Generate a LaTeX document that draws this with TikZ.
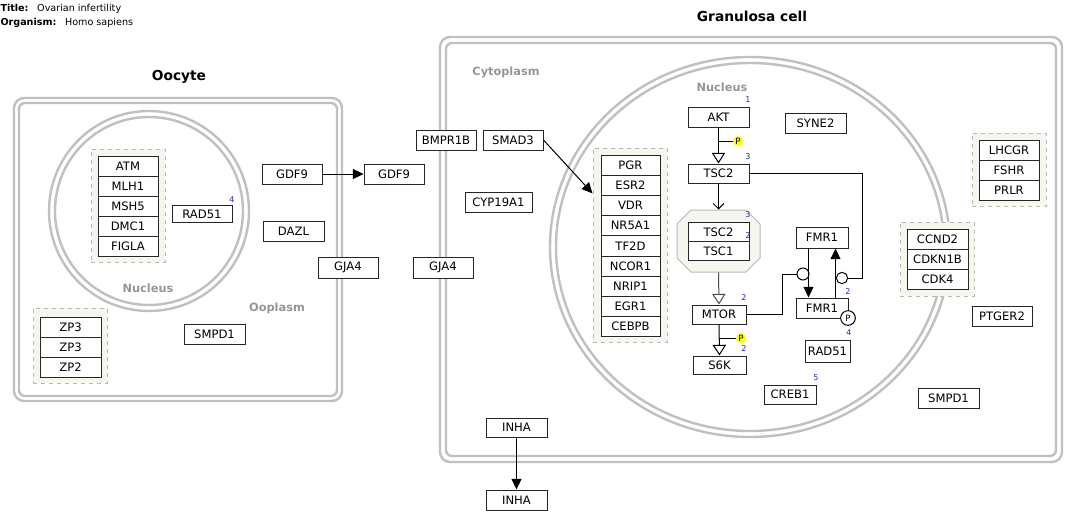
\documentclass[tikz,border=0pt]{standalone}
\usepackage{fontspec}
\setmainfont{DejaVu Sans}
\usetikzlibrary{arrows.meta}
\definecolor{cellgray}{RGB}{192,192,192}
\definecolor{labelgray}{RGB}{150,150,150}
\definecolor{grpfill}{RGB}{246,246,240}
\definecolor{grpline}{RGB}{185,185,175}
\definecolor{supblue}{RGB}{40,40,170}
\definecolor{phosyellow}{RGB}{255,255,0}
\begin{document}
\begin{tikzpicture}[x=0.75pt,y=-0.75pt,line width=0.75pt,
  gene/.style={draw=black!85,fill=white,minimum width=45.75pt,minimum height=15pt,inner sep=0pt,font=\fontsize{8.7}{10}\selectfont},
  wd/.style={minimum width=#1*0.75pt},
  ht/.style={minimum height=#1*0.75pt},
  grp/.style={draw=grpline,dashed,fill=grpfill,inner sep=0pt},
  membrane/.style={draw=cellgray,line width=1.8pt},
  complabel/.style={text=labelgray,font=\bfseries\fontsize{8.5}{10}\selectfont},
  celltitle/.style={font=\bfseries\fontsize{10.3}{12}\selectfont},
  supnum/.style={text=supblue,font=\fontsize{6}{7}\selectfont,inner sep=0pt},
  phos/.style={circle,fill=phosyellow,inner sep=0pt,minimum size=7.5pt,font=\fontsize{6.5}{7}\selectfont},
  catc/.style={circle,draw=black,fill=white,inner sep=0pt,minimum size=9pt},
  mimconv/.style={-{Triangle[open,length=8pt,width=10pt]}},
  arr/.style={-{Triangle[length=8pt,width=7.5pt]}},
  barb/.style={-{Straight Barb[length=4pt,width=8pt]}}]
\useasboundingbox (0,0) rectangle (1081,525);

% header
\node[anchor=west,inner sep=0pt,font=\fontsize{7.2}{8}\selectfont] (title) at (0,9) {\textbf{Title:}\hspace{6.5pt}Ovarian infertility};
\node[anchor=west,inner sep=0pt,font=\fontsize{7.2}{8}\selectfont] (organism) at (0,23) {\textbf{Organism:}\hspace{6.5pt}Homo sapiens};

% compartments
\draw[membrane,rounded corners=7.5pt] (14,98) rectangle (342,401);
\draw[membrane,rounded corners=4.5pt] (19,103) rectangle (337,396);
\draw[membrane] (149,211) circle[radius=100];
\draw[membrane] (149,211) circle[radius=94];
\draw[membrane,rounded corners=7.5pt] (440,37) rectangle (1062,462);
\draw[membrane,rounded corners=4.5pt] (446,43) rectangle (1056,456);
\draw[membrane] (750,247) ellipse[x radius=200,y radius=190];
\draw[membrane] (750,247) ellipse[x radius=194,y radius=184];

\node[celltitle] (oocyte) at (179,77) {Oocyte};
\node[celltitle] (granulosa) at (752,16) {Granulosa cell};
\node[complabel] (oonucleus) at (148,288) {Nucleus};
\node[complabel] (ooplasm) at (277,308) {Ooplasm};
\node[complabel] (cytoplasm) at (506,72) {Cytoplasm};
\node[complabel] (grnucleus) at (722,87) {Nucleus};

% groups
\node[grp,wd=74,ht=113] (oonucgrp) at (128,205.5) {};
\node[grp,wd=74,ht=75] (zpgrp) at (70,345.5) {};
\node[grp,wd=74,ht=194] (nrgrp) at (630,245) {};
\node[grp,wd=74,ht=73] (lhgrp) at (1009,169.5) {};
\node[grp,wd=74,ht=74] (cdkgrp) at (937,259) {};
\foreach \g [count=\i] in {ATM,MLH1,MSH5,DMC1,FIGLA}
  \node[gene,wd=60,ht=20] (oonuc\i) at (128,146+20*\i) {\g};
\foreach \g [count=\i] in {ZP3,ZP3,ZP2}
  \node[gene,wd=61,ht=20] (zp\i) at (70.5,307+20*\i) {\g};
\foreach \g [count=\i] in {PGR,ESR2,VDR,NR5A1,TF2D,NCOR1,NRIP1,EGR1,CEBPB}
  \node[gene,wd=59,ht=20.2] (nr\i) at (630.5,144.9+20.2*\i) {\g};
\foreach \g [count=\i] in {LHCGR,FSHR,PRLR}
  \node[gene,wd=60,ht=20] (lh\i) at (1009,130+20*\i) {\g};
\foreach \g [count=\i] in {CCND2,CDKN1B,CDK4}
  \node[gene,wd=61,ht=20] (cdk\i) at (937.5,219+20*\i) {\g};

% oocyte
\node[gene,wd=60,ht=17] (rad51o) at (202,214) {RAD51};
\node[gene,wd=60,ht=20] (gdf9o) at (292,174) {GDF9};
\node[gene,wd=61,ht=20] (dazl) at (293.5,231) {DAZL};
\node[gene,wd=61,ht=20] (smpd1o) at (214.5,334) {SMPD1};
\node[gene,wd=60,ht=21] (gja4o) at (348,267.5) {GJA4};

% granulosa cell
\node[gene,wd=60,ht=20] (gdf9g) at (394,174) {GDF9};
\node[gene,wd=60,ht=21] (gja4g) at (443,267.5) {GJA4};
\node[gene,wd=60,ht=20] (bmpr1b) at (446,140) {BMPR1B};
\node[gene,wd=60,ht=20] (smad3) at (513,140) {SMAD3};
\node[gene,wd=67,ht=20] (cyp19a1) at (498.5,202) {CYP19A1};
\node[gene,wd=60,ht=20] (ptger2) at (1002,316) {PTGER2};
\node[gene,wd=61,ht=20] (smpd1g) at (948.5,398) {SMPD1};
\node[gene,wd=61,ht=19] (inha1) at (516.5,427.5) {INHA};
\node[gene,wd=61,ht=20] (inha2) at (516.5,500) {INHA};

% nucleus
\node[gene,wd=61,ht=20] (akt) at (718.5,117) {AKT};
\node[gene,wd=61,ht=20] (syne2) at (815.5,123) {SYNE2};
\node[gene,wd=61,ht=19] (tsc2) at (718.5,173.5) {TSC2};
\filldraw[draw=grpline,fill=grpfill] (677,224) -- (691,210) -- (746,210) -- (760,224)
  -- (760,258) -- (746,272) -- (691,272) -- (677,258) -- cycle;
\node[inner sep=0pt,wd=83,ht=62] (tscx) at (718.5,241) {};
\node[gene,wd=61,ht=19] (tsc2c) at (718.5,232) {TSC2};
\node[gene,wd=61,ht=19] (tsc1) at (718.5,251) {TSC1};
\node[gene,wd=54,ht=19] (mtor) at (719,314.5) {MTOR};
\node[gene,wd=53,ht=18] (s6k) at (719.5,365) {S6K};
\node[gene,wd=52,ht=21] (fmr1a) at (822,237.5) {FMR1};
\node[gene,wd=52,ht=20] (fmr1b) at (822,308) {FMR1};
\node[gene,wd=45,ht=22] (rad51g) at (827.5,351) {RAD51};
\node[gene,wd=52,ht=19] (creb1) at (790,394.5) {CREB1};

% counts
\node[supnum] (n1) at (232,200) {4};
\node[supnum] (n2) at (748,100) {1};
\node[supnum] (n3) at (748,157) {3};
\node[supnum] (n4) at (748,215) {3};
\node[supnum] (n5) at (748,236) {2};
\node[supnum] (n6) at (744,298) {2};
\node[supnum] (n7) at (744,349) {2};
\node[supnum] (n8) at (848,292) {2};
\node[supnum] (n9) at (849,333) {4};
\node[supnum] (n10) at (816,378) {5};

% modifications
\node[phos] (p1) at (738,141) {P};
\node[phos] (p2) at (741,338) {P};
\node[catc,minimum size=11pt,font=\fontsize{6.5}{7}\selectfont] (p3) at (848,318) {P};
\node[catc] (c1) at (803,274) {};
\node[catc,minimum size=8.5pt] (c2) at (842,278) {};

% interactions
\draw[arr] (gdf9o.east) -- (gdf9g.west);
\draw[arr] (smad3.east) -- (nrgrp.126);
\draw[arr] (inha1.south) -- (inha2.north);
\draw[mimconv] (akt.south) -- (tsc2.north);
\draw[barb] (tsc2.south) -- (tscx.north);
\draw[mimconv,draw=black!70] (tscx.south) -- (mtor.north);
\draw[mimconv] (mtor.south) -- (s6k.north);
\draw (p1.west) -- (p1.west -| akt.south);
\draw (p2.west) -- (p2.west -| mtor.south);
\draw[arr] ([xshift=9.75pt]fmr1a.south west) -- ([xshift=9.75pt]fmr1b.north west);
\draw[arr] ([xshift=30pt]fmr1b.north west) -- ([xshift=30pt]fmr1a.south west);
\draw (c1.west) -- ++(-14,0) |- (mtor.east);
\draw (c2.east) -- ++(14,0) |- (tsc2.east);
\end{tikzpicture}
\end{document}
